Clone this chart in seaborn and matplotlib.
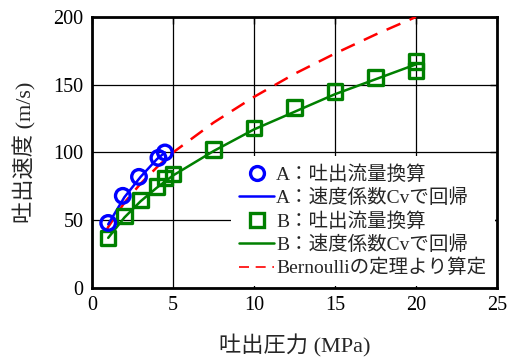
import matplotlib
matplotlib.use("Agg")
import matplotlib.pyplot as plt
import seaborn as sns
import pandas as pd
from matplotlib.lines import Line2D

# Data
a_pressure = [1.0, 1.9, 2.9, 4.1, 4.5]
a_velocity = [48, 68, 82, 96, 100]
a_fit_pressure = [1.0, 2.0, 3.0, 4.0, 4.5]
a_fit_velocity = [47, 67, 82, 95, 100]

b_pressure = [1.0, 2.0, 3.0, 4.0, 4.5, 5.0, 7.5, 10.0, 12.5, 15.0, 17.5, 20.0, 20.0]
b_velocity = [37, 53, 65, 75, 81, 84, 102, 118, 133, 145, 155.5, 160.5, 167]
b_fit_pressure = [1, 2, 3, 4, 5, 7.5, 10, 12.5, 15, 17.5, 20]
b_fit_velocity = [37, 52, 64, 74, 83, 101, 117, 130, 143, 154, 165]

bern_pressure = [0.9, 1, 2, 3, 4, 5, 7.5, 10, 12.5, 15, 17.5, 20]
bern_velocity = [42.5, 45, 63, 77, 89, 100, 122, 141, 158, 173, 187, 200]

labels = ["A：吐出流量換算", "A：速度係数Cvで回帰", "B：吐出流量換算",
          "B：速度係数Cvで回帰", "Bernoulliの定理より算定"]
x_label = "吐出圧力 (MPa)"
y_label = "吐出速度 (m/s)"

sns.set_theme(style="white")
plt.rcParams['font.family'] = ['Liberation Serif', 'Noto Sans CJK JP']

fig = plt.figure(figsize=(5.14, 3.6), dpi=100)
ax = fig.add_axes([0.179, 0.2, 0.788, 0.753])

sns.lineplot(x=bern_pressure, y=bern_velocity, ax=ax, color='red', lw=1.8,
             sort=False, zorder=3)
ax.lines[-1].set_dashes([6, 4])
sns.lineplot(x=b_fit_pressure, y=b_fit_velocity, ax=ax, color='green', lw=1.8, sort=False, zorder=3)
sns.lineplot(x=a_fit_pressure, y=a_fit_velocity, ax=ax, color='blue', lw=1.8, sort=False, zorder=4)
sns.scatterplot(x=b_pressure, y=b_velocity, ax=ax, marker='s', s=110,
                facecolors='none', edgecolor='green', linewidth=2.4, zorder=5)
sns.scatterplot(x=a_pressure, y=a_velocity, ax=ax, marker='o', s=110,
                facecolors='none', edgecolor='blue', linewidth=2.4, zorder=6)

ax.set_xlim(0, 25)
ax.set_ylim(0, 200)
ax.set_xticks([0, 5, 10, 15, 20, 25])
ax.set_yticks([0, 50, 100, 150, 200])
ax.grid(True, color='black', lw=0.9)
ax.set_axisbelow(True)
for s in ax.spines.values():
    s.set_visible(True)
    s.set_color('black')
    s.set_linewidth(2.0)
ax.tick_params(direction='in', length=5, width=1.0, top=True, right=True,
               labelsize=14.5, colors='black', pad=6)
ax.set_xlabel(x_label, fontsize=16, labelpad=14)
ax.set_ylabel(y_label, fontsize=16, labelpad=12)

handles = [
    Line2D([], [], ls='none', marker='o', ms=10, mfc='none', mec='blue', mew=2.4),
    Line2D([], [], color='blue', lw=1.8),
    Line2D([], [], ls='none', marker='s', ms=10, mfc='none', mec='green', mew=2.4),
    Line2D([], [], color='green', lw=1.8),
    Line2D([], [], color='red', lw=1.2, dashes=[6, 4]),
]
leg = ax.legend(handles, labels, loc='lower right', fontsize=14, frameon=True,
                facecolor='white', edgecolor='none', framealpha=1, fancybox=False,
                borderaxespad=0.1, handlelength=1.8, handletextpad=0.1,
                labelspacing=0.25, borderpad=0.45)
leg.set_zorder(10)

fig.savefig("out.png", dpi=100)
